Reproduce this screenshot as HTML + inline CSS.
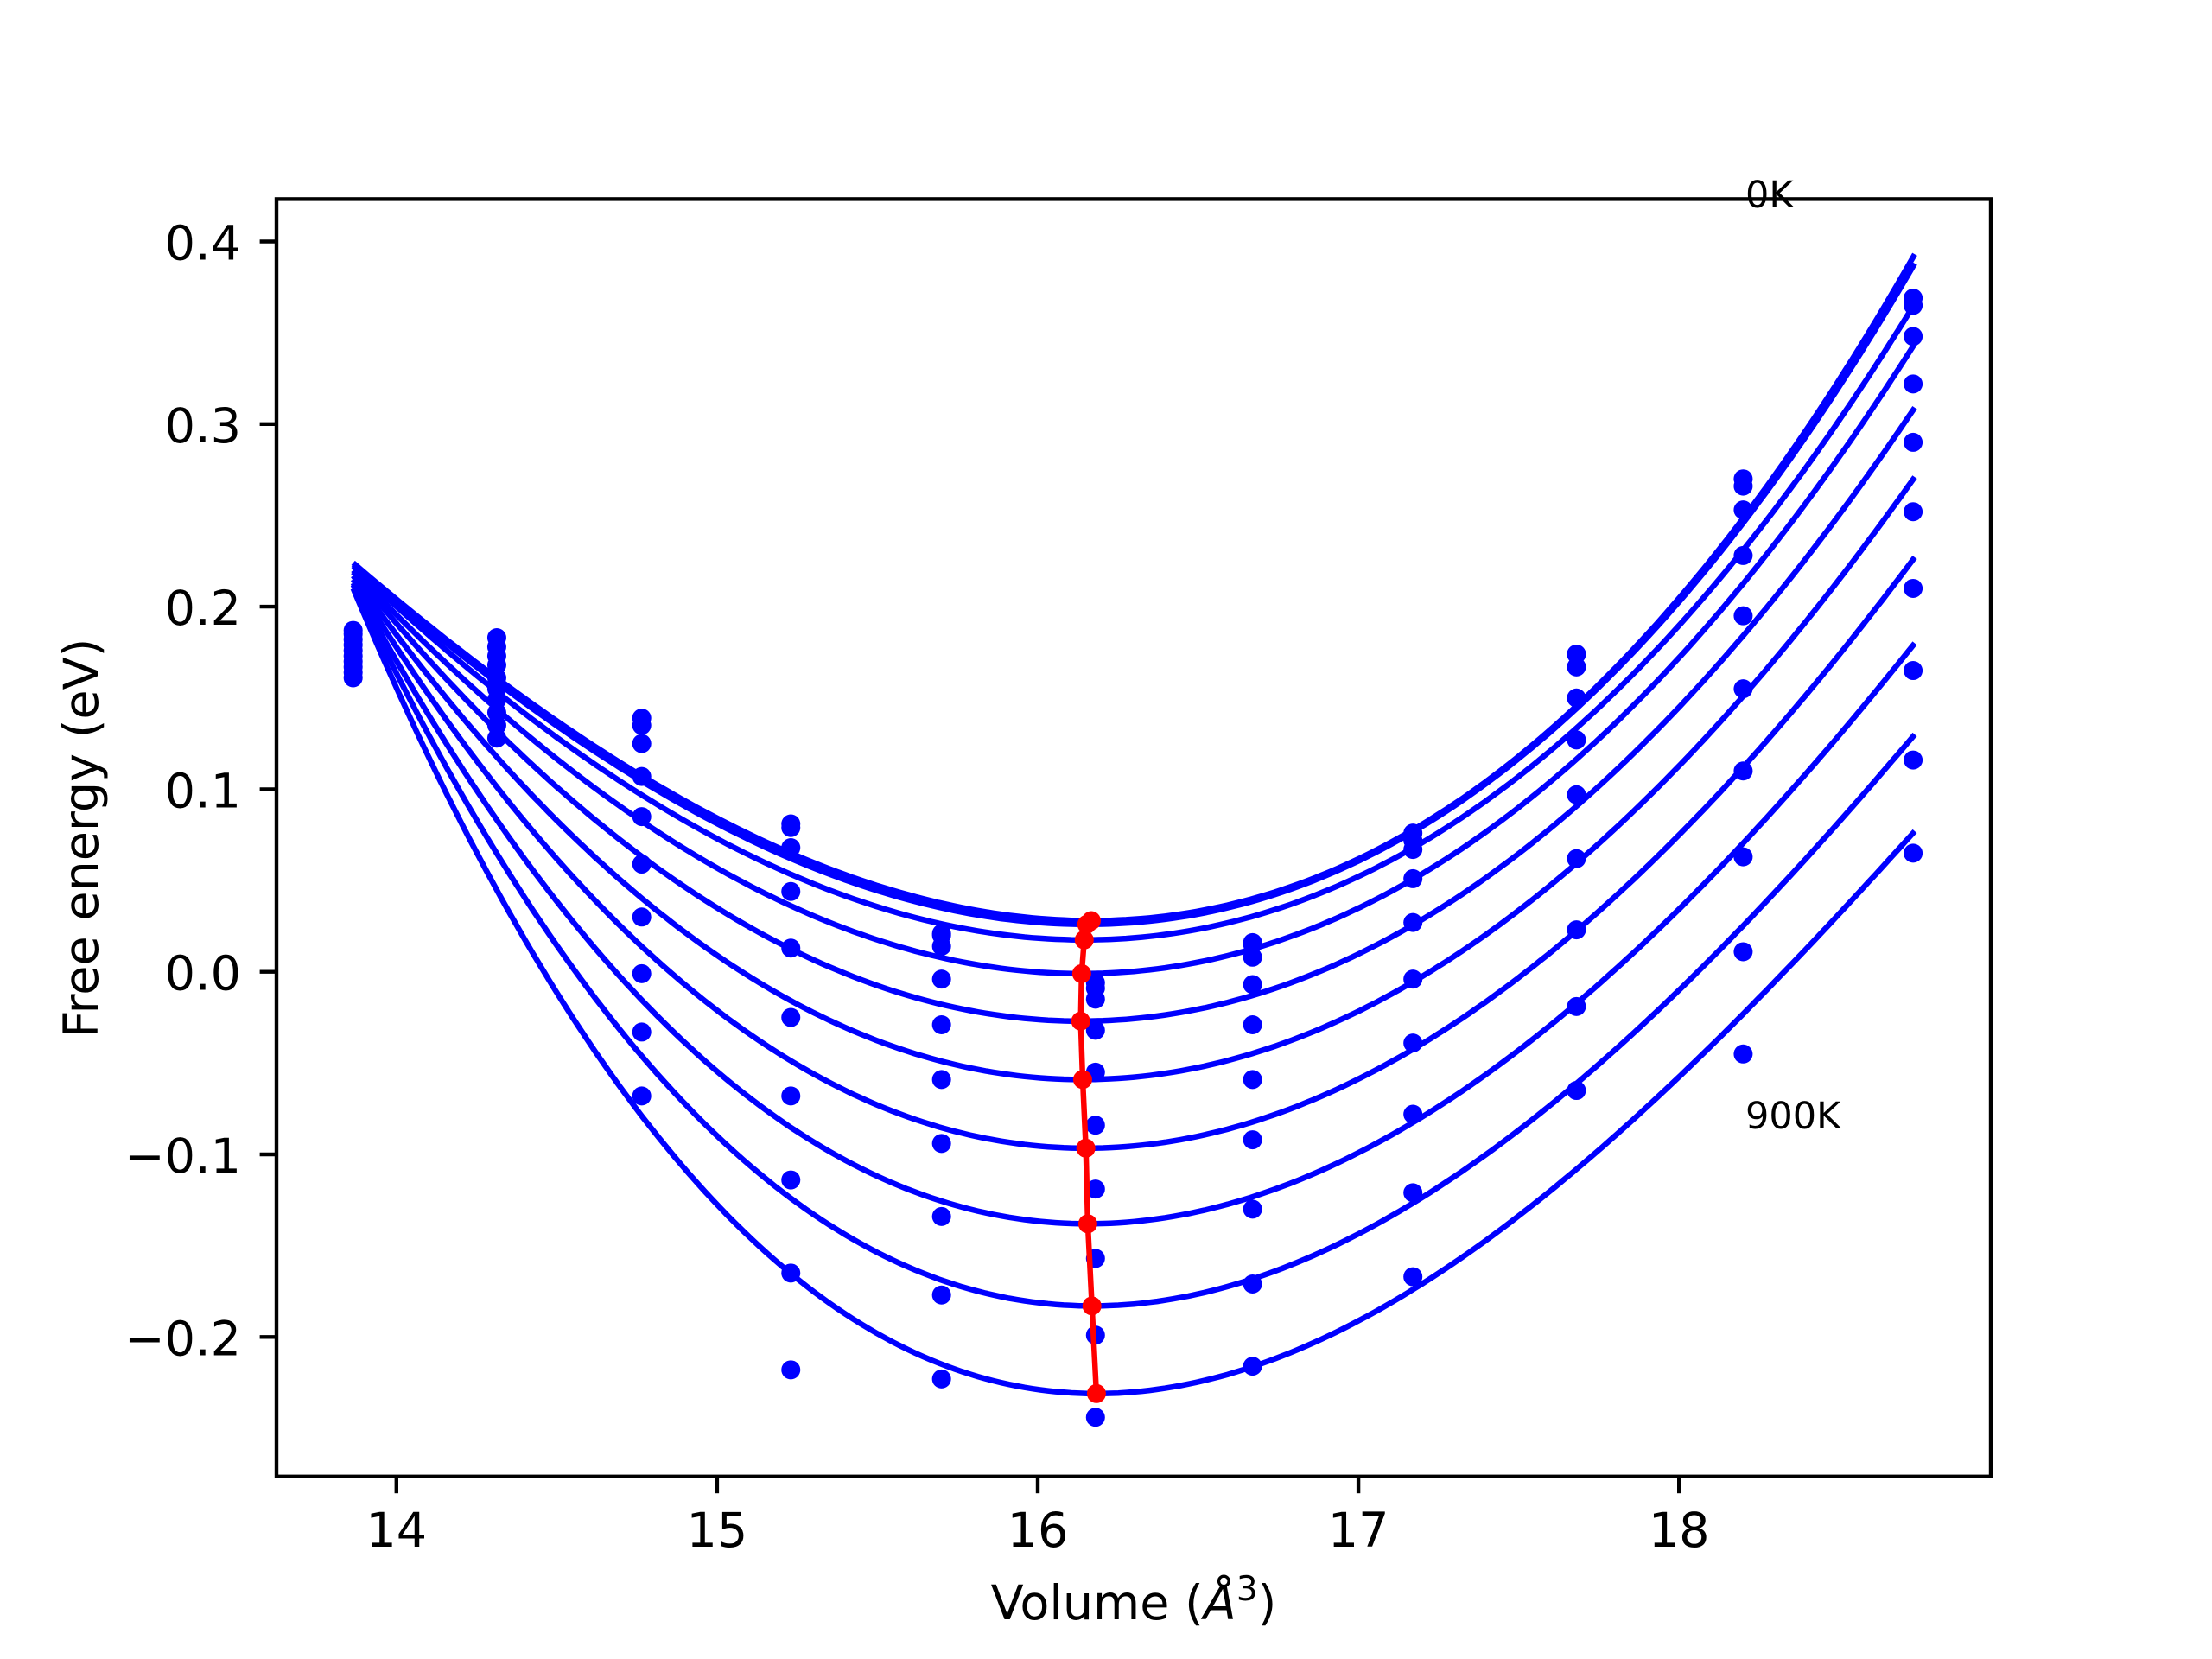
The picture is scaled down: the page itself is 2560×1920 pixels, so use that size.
<!DOCTYPE html>
<html><head><meta charset="utf-8"><style>
html,body{margin:0;padding:0;background:#fff;}
svg{display:block;font-family:"DejaVu Sans","Liberation Sans",sans-serif;}
</style></head><body>
<svg id="chart" width="2560" height="1920" viewBox="0 0 2560 1920" xmlns="http://www.w3.org/2000/svg">
<rect x="0" y="0" width="2560" height="1920" fill="#fff"/>
<g id="plot"></g>
<g id="axes"></g>
</svg>
<script>
const volumes = [13.865,14.313,14.765,15.23,15.70,16.18,16.67,17.17,17.68,18.20,18.73];
const temperatures = ["0K","100K","200K","300K","400K","500K","600K","700K","800K","900K"];
const s0K   = [0.187,0.183,0.139,0.081,0.021,-0.006,0.016,0.076,0.174,0.270,0.369];
const s100K = [0.185,0.178,0.135,0.079,0.020,-0.009,0.015,0.072,0.174,0.266,0.365];
const s200K = [0.182,0.173,0.125,0.068,0.014,-0.015,0.008,0.067,0.167,0.253,0.348];
const s300K = [0.179,0.168,0.107,0.044,-0.004,-0.032,-0.007,0.051,0.150,0.228,0.322];
const s400K = [0.176,0.161,0.085,0.013,-0.029,-0.055,-0.029,0.027,0.127,0.195,0.290];
const s500K = [0.173,0.155,0.059,-0.025,-0.059,-0.084,-0.059,-0.004,0.097,0.155,0.252];
const s600K = [0.170,0.149,0.030,-0.068,-0.094,-0.119,-0.092,-0.039,0.062,0.110,0.210];
const s700K = [0.167,0.142,-0.001,-0.114,-0.134,-0.157,-0.130,-0.078,0.023,0.063,0.165];
const s800K = [0.164,0.135,-0.033,-0.165,-0.177,-0.199,-0.171,-0.121,-0.019,0.011,0.116];
const s900K = [0.161,0.128,-0.068,-0.218,-0.223,-0.244,-0.216,-0.167,-0.065,-0.045,0.065];
const series = [s0K,s100K,s200K,s300K,s400K,s500K,s600K,s700K,s800K,s900K];
const fitVmin  = [16.167,16.153,16.145,16.137,16.134,16.140,16.150,16.156,16.169,16.183];
const fitEmin  = [0.028,0.026,0.0175,-0.001,-0.027,-0.059,-0.0966,-0.138,-0.183,-0.231];
const fitVleft = 13.865, fitVright = 18.735;
const fitEleft  = [0.224,0.223,0.222,0.220,0.219,0.217,0.215,0.213,0.212,0.210];
const fitEright = [0.393,0.388,0.366,0.344,0.309,0.271,0.227,0.180,0.130,0.077];
const xTicks = [14,15,16,17,18];
const yTicks = [0.4,0.3,0.2,0.1,0.0,-0.1,-0.2];
const yTickLabels = ["0.4","0.3","0.2","0.1","0.0","\u22120.1","\u22120.2"];

const L=320,R=2304,T=230.4,B=1708.8;
function X(v){return 458.8+(v-14)*371.1;}
function Y(e){return 1124.7-e*2113;}
const NS="http://www.w3.org/2000/svg";
function mk(tag,attrs,parent){const el=document.createElementNS(NS,tag);for(const k in attrs)el.setAttribute(k,attrs[k]);parent.appendChild(el);return el;}
const plot=document.getElementById('plot'), axes=document.getElementById('axes');

series.forEach((s,i)=>{
  const v0=fitVmin[i], e0=fitEmin[i];
  const dl=fitVleft-v0, dr=fitVright-v0, Lv=fitEleft[i]-e0, Rv=fitEright[i]-e0;
  const det=dl*dl*dr*dr*(dr-dl);
  const a=(Lv*dr*dr*dr-Rv*dl*dl*dl)/det, b=(Rv*dl*dl-Lv*dr*dr)/det;
  let d="";
  for(let k=0;k<=200;k++){const v=fitVleft+(fitVright-fitVleft)*k/200;const t=v-v0;const e=e0+a*t*t+b*t*t*t;d+=(k?"L":"M")+X(v).toFixed(1)+","+Y(e).toFixed(1);}
  const p=mk('path',{d:d,fill:'none',stroke:'#0000ff','stroke-width':6.5},plot);
  
  
});
series.forEach((s,i)=>{
  s.forEach((e,j)=>{
    const c=mk('circle',{cx:X(volumes[j]),cy:Y(e),r:11,fill:'#0000ff'},plot);
    
    
  });
});
let rd="";
fitVmin.forEach((v,i)=>{rd+=(i?"L":"M")+X(v).toFixed(1)+","+Y(fitEmin[i]).toFixed(1);});
const rl=mk('path',{d:rd,fill:'none',stroke:'#ff0000','stroke-width':6.5},plot);


fitVmin.forEach((v,i)=>{
  const c=mk('circle',{cx:X(v),cy:Y(fitEmin[i]),r:11,fill:'#ff0000'},plot);
  
  
});
const a0=mk('text',{x:2020,y:240,'font-size':43,fill:'#000'},plot);a0.textContent="0K";


const a9=mk('text',{x:2020,y:1306,'font-size':43,fill:'#000'},plot);a9.textContent="900K";



const fr=mk('rect',{x:L,y:T,width:R-L,height:B-T,fill:'none',stroke:'#000','stroke-width':4.4},axes);


xTicks.forEach(v=>{
  const x=X(v);
  const t=mk('line',{x1:x,y1:B,x2:x,y2:B+19.4,stroke:'#000','stroke-width':4.4},axes);
  
  
  const tx=mk('text',{x:x,y:1790,'font-size':55.6,'text-anchor':'middle',fill:'#000'},axes);tx.textContent=String(v);
  
  
});
yTicks.forEach((v,i)=>{
  const y=Y(v);
  const t=mk('line',{x1:L,y1:y,x2:L-19.4,y2:y,stroke:'#000','stroke-width':4.4},axes);
  
  
  const tx=mk('text',{x:279,y:y+21,'font-size':55.6,'text-anchor':'end',fill:'#000'},axes);tx.textContent=yTickLabels[i];
  
  
});
const xl=mk('text',{x:1312,y:1874,'font-size':55.6,'text-anchor':'middle',fill:'#000'},axes);
xl.innerHTML='Volume (<tspan font-style="italic">Å</tspan><tspan dy="-22" font-size="39">3</tspan><tspan dy="22">)</tspan>';


const yl=mk('text',{x:0,y:0,'font-size':55.6,'text-anchor':'middle',fill:'#000',transform:'translate(113,970) rotate(-90)'},axes);
yl.textContent="Free energy (eV)";


</script>
</body></html>
